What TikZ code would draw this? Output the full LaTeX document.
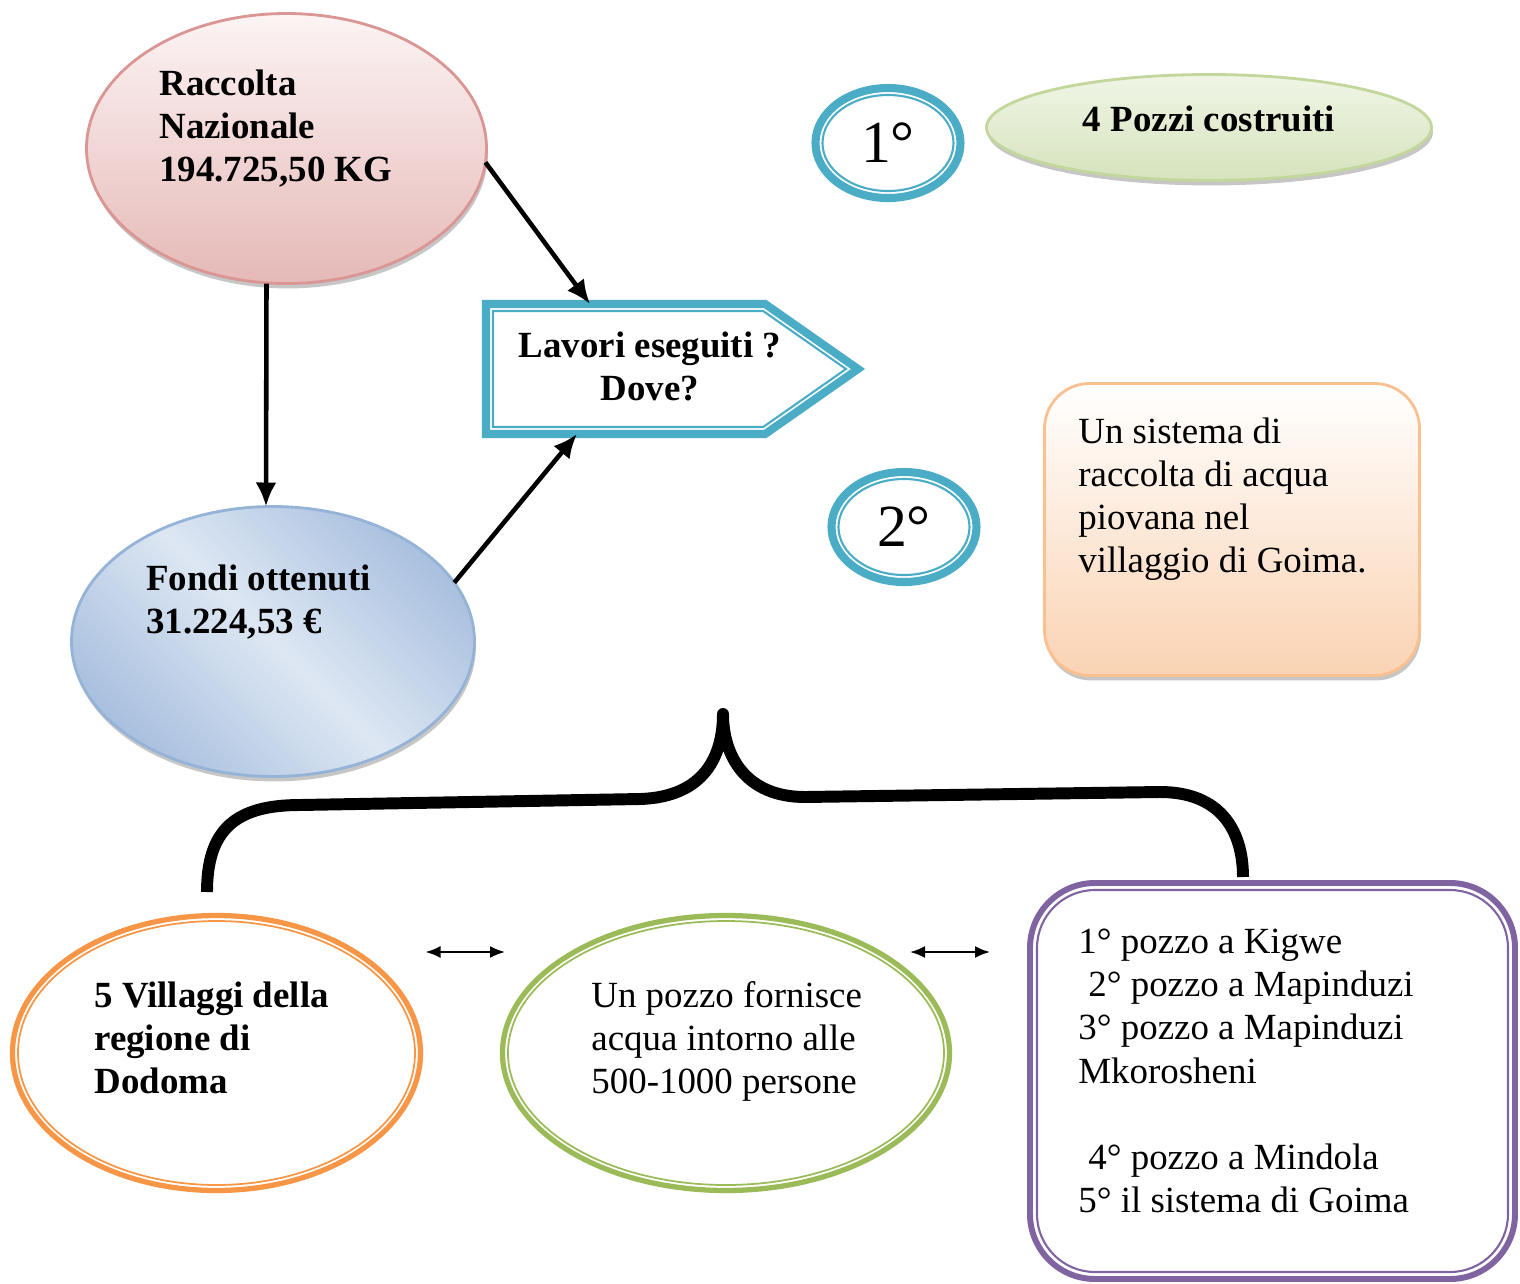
\documentclass[tikz,border=0pt]{standalone}
\usepackage{fontspec}
\setmainfont{Liberation Serif}
\usetikzlibrary{calc,shapes.geometric,shapes.symbols,arrows.meta,shadows}

\definecolor{pinkline}{HTML}{D99694}
\definecolor{pinktop}{HTML}{FCF4F4}
\definecolor{pinkbot}{HTML}{E5B9B7}
\definecolor{blueline}{HTML}{95B3D7}
\definecolor{bluedark}{HTML}{A9C0DF}
\definecolor{bluelight}{HTML}{DDE7F3}
\definecolor{tealline}{HTML}{4BACC6}
\definecolor{greenline}{HTML}{C3D69B}
\definecolor{greentop}{HTML}{F0F5E6}
\definecolor{greenbot}{HTML}{D6E3BC}
\definecolor{peachline}{HTML}{FAC090}
\definecolor{peachbot}{HTML}{FAD3B3}
\definecolor{orangeline}{HTML}{F79646}
\definecolor{greenring}{HTML}{9BBB59}
\definecolor{purpleline}{HTML}{8064A2}

\begin{document}
\begin{tikzpicture}[thick,
  every node/.style={font=\fontsize{10.5}{12.24}\selectfont},
  boldtext/.style={font=\fontsize{10.5}{12.24}\selectfont\bfseries},
  bigtext/.style={font=\fontsize{17}{20}\selectfont},
  txt/.style={anchor=north west, inner sep=0pt, align=left},
  softshadow/.style={drop shadow={shadow xshift=0.4pt, shadow yshift=-1.4pt, opacity=0.45}},
  arr/.style={line width=1.3pt, -{Latex[length=2.4mm,width=2.1mm]}},
  dblarr/.style={line width=0.6pt, {Latex[length=1.5mm,width=1.2mm]}-{Latex[length=1.5mm,width=1.2mm]}}]
\useasboundingbox (0,0) rectangle (15.2,-12.84);

% Raccolta and fondi
\node[ellipse, draw=pinkline, line width=0.8pt, outer sep=0pt, minimum width=4.0cm, minimum height=2.70cm, top color=pinktop, bottom color=pinkbot, softshadow] (raccolta) at (2.865,-1.485) {};
\node[txt, boldtext] (raccoltatxt) at (1.58,-0.68) {Raccolta\\Nazionale\\194.725,50 KG};

\node[ellipse, draw=blueline, line width=0.8pt, outer sep=0pt, minimum width=4.03cm, minimum height=2.70cm, top color=bluedark, bottom color=bluedark, middle color=bluelight, shading angle=-45, softshadow] (fondi) at (2.73,-6.415) {};
\node[txt, boldtext] (fonditxt) at (1.45,-5.63) {Fondi ottenuti\\31.224,53 €};

% Lavori eseguiti
\node[signal, signal to=east, signal pointer angle=70, draw=tealline, line width=2.3pt, outer sep=0pt, minimum width=3.72cm, minimum height=1.30cm, inner sep=0pt, anchor=west] (lavori) at (4.86,-3.69) {};
\node[signal, signal to=east, signal pointer angle=70, draw=tealline, line width=0.6pt, outer sep=0pt, minimum width=3.53cm, minimum height=1.16cm, inner sep=0pt, anchor=west] (lavoriin) at ($(lavori.west)+(0.07,0)$) {};
\node[boldtext, align=center] (lavoritxt) at ($(lavori.west)+(1.64,0.03)$) {Lavori eseguiti ?\\Dove?};

% Arrows into lavori
\draw[arr] (raccolta.-4) -- ($(lavori.north west)+(1.04,0)$);
\draw[arr] ($(raccolta.south)+(-0.2,0)$) -- ($(fondi.north)+(-0.07,0)$);
\draw[arr] (fondi.18.5) -- ($(lavori.south west)+(0.91,0)$);

% First result
\node[ellipse, draw=tealline, line width=2.3pt, outer sep=0pt, minimum width=1.45cm, minimum height=1.10cm, bigtext] (primo) at (8.88,-1.43) {1°};
\draw[tealline, line width=0.6pt] (primo.center) ellipse [x radius=0.655, y radius=0.48];
\node[ellipse, draw=greenline, line width=0.8pt, outer sep=0pt, minimum width=4.45cm, minimum height=1.06cm, text depth=0.18cm, top color=greentop, bottom color=greenbot, softshadow, boldtext] (pozzi) at (12.09,-1.275) {4 Pozzi costruiti};

% Second result
\node[ellipse, draw=tealline, line width=2.3pt, outer sep=0pt, minimum width=1.45cm, minimum height=1.10cm, bigtext] (secondo) at (9.04,-5.27) {2°};
\draw[tealline, line width=0.6pt] (secondo.center) ellipse [x radius=0.655, y radius=0.48];
\node[rectangle, rounded corners=0.45cm, draw=peachline, line width=0.8pt, outer sep=0pt, minimum width=3.75cm, minimum height=2.92cm, top color=white, bottom color=peachbot, softshadow] (sistema) at (12.32,-5.295) {};
\node[txt] (sistematxt) at (10.77,-4.16) {Un sistema di\\raccolta di acqua\\piovana nel\\villaggio di Goima.};

% Brace
\draw[line width=3.4pt, line join=round] (2.07,-8.92) .. controls (2.07,-8.30) and (2.35,-8.05) .. (3.00,-8.05) -- (6.40,-7.99) .. controls (7.05,-7.97) and (7.23,-7.55) .. (7.23,-7.14) .. controls (7.23,-7.55) and (7.45,-7.97) .. (8.05,-7.97) -- (11.60,-7.92) .. controls (12.20,-7.92) and (12.43,-8.30) .. (12.43,-8.77);

% Bottom row
\node[ellipse, draw=orangeline, line width=1.5pt, outer sep=0pt, minimum width=4.08cm, minimum height=2.75cm] (dodoma) at (2.165,-10.53) {};
\draw[orangeline, line width=0.5pt] (dodoma.center) ellipse [x radius=1.985, y radius=1.32];
\node[txt, boldtext] (dodomatxt) at (0.93,-9.80) {5 Villaggi della\\regione di\\Dodoma};

\node[ellipse, draw=greenring, line width=1.5pt, outer sep=0pt, minimum width=4.47cm, minimum height=2.75cm] (pozzo) at (7.26,-10.53) {};
\draw[greenring, line width=0.5pt] (pozzo.center) ellipse [x radius=2.18, y radius=1.32];
\node[txt] (pozzotxt) at (5.90,-9.80) {Un pozzo fornisce\\acqua intorno alle\\500-1000 persone};

\node[rectangle, rounded corners=0.65cm, draw=purpleline, line width=1.7pt, outer sep=0pt, minimum width=4.85cm, minimum height=3.96cm] (elenco) at (12.725,-10.81) {};
\draw[purpleline, line width=0.6pt, rounded corners=0.58cm] ($(elenco.south west)+(0.07,0.07)$) rectangle ($(elenco.north east)+(-0.07,-0.07)$);
\node[txt] (elencotxt) at (10.77,-9.28) {1° pozzo a Kigwe\\\hspace*{0.1cm}2° pozzo a Mapinduzi\\3° pozzo a Mapinduzi\\Mkorosheni\\[12.24pt]\hspace*{0.1cm}4° pozzo a Mindola\\5° il sistema di Goima};

\draw[dblarr] ($(dodoma.east)+(0.05,1.01)$) -- ($(pozzo.west)+(0.025,1.01)$);
\draw[dblarr] ($(pozzo.east)+(-0.395,1.01)$) -- ($(elenco.west)+(-0.40,1.29)$);

\end{tikzpicture}
\end{document}
